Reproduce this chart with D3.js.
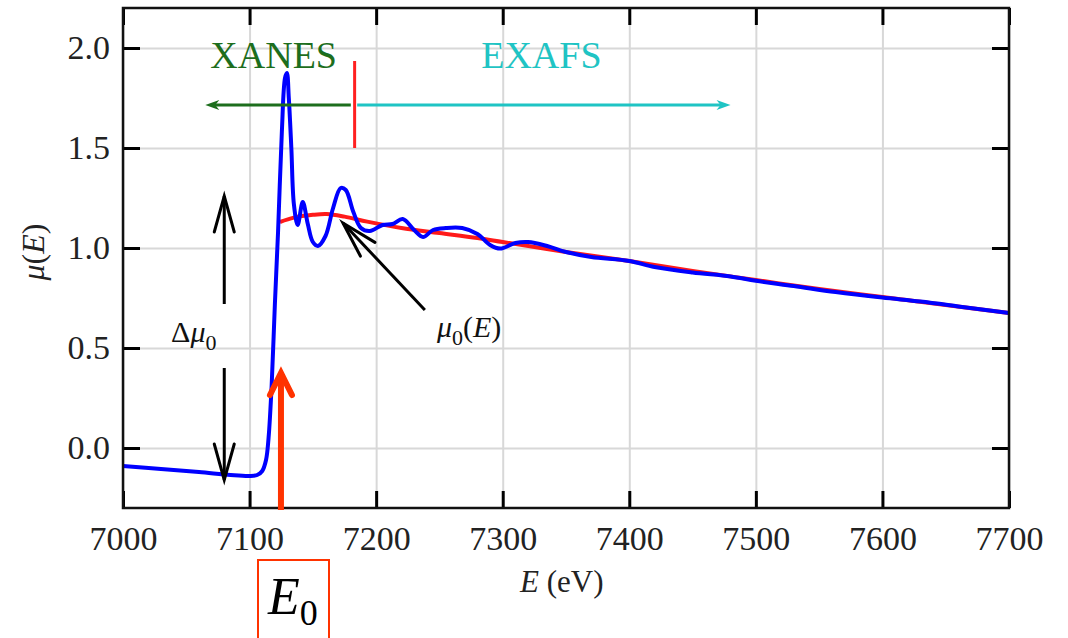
<!DOCTYPE html>
<html>
<head>
<meta charset="utf-8">
<script src="https://cdn.jsdelivr.net/npm/d3@7"></script>
<style>
  body { margin: 0; background: #fff; }
  svg { display: block; }
  text { font-family: "Liberation Serif", "Times New Roman", serif; }
</style>
</head>
<body>
<svg id="chart" width="1068" height="638"></svg>
<script>
// measured absorption mu(E), energy in eV
const energy = [7000, 7030, 7060, 7085, 7100, 7106, 7110, 7113, 7115, 7117.5, 7120, 7122.5, 7125.5,
    7128, 7129.5, 7131, 7133, 7135, 7138, 7142, 7146, 7150, 7154, 7160, 7166, 7172, 7176, 7182,
    7188, 7195, 7205, 7213, 7221, 7230, 7237, 7245, 7255, 7268, 7280, 7290, 7298, 7310, 7320,
    7335, 7350, 7370, 7400, 7420, 7450, 7480, 7500, 7530, 7563, 7600, 7630, 7660, 7700]
const mu = [-0.09, -0.105, -0.12, -0.135, -0.14, -0.135, -0.115, -0.06, 0.05, 0.32, 0.72, 1.08, 1.58,
    1.85, 1.875, 1.75, 1.5, 1.22, 1.115, 1.23, 1.12, 1.03, 1.01, 1.06, 1.2, 1.3, 1.29, 1.18,
    1.1, 1.085, 1.115, 1.12, 1.145, 1.09, 1.055, 1.09, 1.1, 1.1, 1.07, 1.015, 0.997, 1.025, 1.03,
    1.01, 0.98, 0.955, 0.935, 0.905, 0.878, 0.858, 0.836, 0.81, 0.78, 0.752, 0.732, 0.708, 0.675]

// smooth background mu0(E)
const energy0 = [7124, 7135, 7150, 7161, 7175, 7193, 7220, 7250, 7280, 7300, 7350, 7400, 7450,
    7500, 7550, 7600, 7650, 7700]
const mu0 = [1.13, 1.152, 1.166, 1.17, 1.157, 1.132, 1.1, 1.075, 1.05, 1.03, 0.98, 0.935, 0.885,
    0.84, 0.795, 0.755, 0.715, 0.675]

const xTicks = [7000, 7100, 7200, 7300, 7400, 7500, 7600, 7700]
const yTicks = [0.0, 0.5, 1.0, 1.5, 2.0]

const serif = "Liberation Serif"
const svg = d3.select("#chart")
const pl = 123, pr = 1009, pt = 8, pb = 508

const x = d3.scaleLinear().domain([7000, 7700]).range([pl, pr])
const y = d3.scaleLinear().domain([-0.3, 2.2]).range([pb, pt])

// grid
svg.append("g")
    .attr("transform", `translate(0,${pb})`)
    .call(d3.axisBottom(x).tickValues(xTicks).tickSize(-(pb - pt)).tickFormat(""))
    .call(g => g.select(".domain").remove())
    .selectAll("line").attr("stroke", "#d8d8d8").attr("stroke-width", 2)
svg.append("g")
    .attr("transform", `translate(${pl},0)`)
    .call(d3.axisLeft(y).tickValues(yTicks).tickSize(-(pr - pl)).tickFormat(""))
    .call(g => g.select(".domain").remove())
    .selectAll("line").attr("stroke", "#d8d8d8").attr("stroke-width", 2)

// curves
const line = d3.line().curve(d3.curveCatmullRom.alpha(0.5))

svg.append("path")
    .attr("d", line(energy0.map((e, i) => [x(e), y(mu0[i])])))
    .attr("fill", "none")
    .attr("stroke", "#ff1a1a")
    .attr("stroke-width", 4)

svg.append("path")
    .attr("d", line(energy.map((e, i) => [x(e), y(mu[i])])))
    .attr("fill", "none")
    .attr("stroke", "#0000ff")
    .attr("stroke-width", 4)
    .attr("stroke-linejoin", "round")

// axes, ticks pointing inward
const tickLen = 17
const styleAxis = g => {
    g.attr("font-family", serif).attr("font-size", 34)
    g.select(".domain").remove()
    g.selectAll("line").attr("stroke", "#000").attr("stroke-width", 3)
    g.selectAll("text").attr("fill", "#222")
}
svg.append("g")
    .attr("transform", `translate(0,${pb})`)
    .call(d3.axisBottom(x).tickValues(xTicks).tickSize(-tickLen).tickPadding(18).tickFormat(d3.format("d")))
    .call(styleAxis)
svg.append("g")
    .attr("transform", `translate(0,${pt})`)
    .call(d3.axisTop(x).tickValues(xTicks).tickSize(-tickLen).tickFormat(""))
    .call(styleAxis)
svg.append("g")
    .attr("transform", `translate(${pl},0)`)
    .call(d3.axisLeft(y).tickValues(yTicks).tickSize(-tickLen).tickPadding(13).tickFormat(d3.format(".1f")))
    .call(styleAxis)
svg.append("g")
    .attr("transform", `translate(${pr},0)`)
    .call(d3.axisRight(y).tickValues(yTicks).tickSize(-tickLen).tickFormat(""))
    .call(styleAxis)

svg.append("rect")
    .attr("x", pl).attr("y", pt)
    .attr("width", pr - pl).attr("height", pb - pt)
    .attr("fill", "none").attr("stroke", "#111").attr("stroke-width", 2.5)

// axis titles
svg.append("text")
    .attr("x", 520).attr("y", 592)
    .attr("font-size", 31).attr("fill", "#222")
    .html('<tspan font-style="italic">E</tspan> (eV)')

svg.append("text")
    .attr("transform", "translate(44,252) rotate(-90)")
    .attr("text-anchor", "middle")
    .attr("font-size", 32).attr("fill", "#222")
    .html('<tspan font-style="italic">μ</tspan>(<tspan font-style="italic">E</tspan>)')

// arrow helpers
function chevron(x1, y1, x2, y2, len, half, color, width) {
    const dx = x2 - x1, dy = y2 - y1, d = Math.hypot(dx, dy)
    const ux = dx / d, uy = dy / d
    const bx = x2 - ux * len, by = y2 - uy * len
    svg.append("line").attr("x1", x1).attr("y1", y1).attr("x2", x2).attr("y2", y2)
        .attr("stroke", color).attr("stroke-width", width)
    svg.append("polyline")
        .attr("points", [[bx - uy * half, by + ux * half], [x2, y2], [bx + uy * half, by - ux * half]].join(" "))
        .attr("fill", "none").attr("stroke", color).attr("stroke-width", width)
        .attr("stroke-linecap", "round").attr("stroke-linejoin", "miter")
}
function filledArrow(x1, y1, x2, y2, color) {
    const dir = Math.sign(x2 - x1)
    svg.append("line").attr("x1", x1).attr("y1", y1).attr("x2", x2 - dir * 8).attr("y2", y2)
        .attr("stroke", color).attr("stroke-width", 3)
    svg.append("path")
        .attr("d", `M${x2},${y2}L${x2 - dir * 14},${y2 - 5}L${x2 - dir * 10},${y2}L${x2 - dir * 14},${y2 + 5}Z`)
        .attr("fill", color)
}

// XANES / EXAFS
const green = "#1d6e1d", cyan = "#1fc4c4"
filledArrow(x(7180), y(1.715), x(7065), y(1.715), green)
filledArrow(x(7185), y(1.715), x(7480), y(1.715), cyan)
svg.append("line")
    .attr("x1", x(7183)).attr("x2", x(7183))
    .attr("y1", y(1.935)).attr("y2", y(1.5))
    .attr("stroke", "#ff2020").attr("stroke-width", 3)
svg.append("text").attr("x", x(7069)).attr("y", y(1.9))
    .attr("font-size", 38).attr("fill", green).text("XANES")
svg.append("text").attr("x", x(7283)).attr("y", y(1.9))
    .attr("font-size", 38).attr("fill", cyan).text("EXAFS")

// edge step
chevron(x(7080), y(0.72), x(7080), y(1.26), 36, 10, "#000", 3)
chevron(x(7080), y(0.40), x(7080), y(-0.16), 36, 10, "#000", 3)
svg.append("text").attr("x", x(7038)).attr("y", y(0.53))
    .attr("font-size", 30).attr("fill", "#111")
    .html('Δ<tspan font-style="italic">μ</tspan><tspan font-size="22" dy="8">0</tspan>')

// mu0 label
chevron(x(7238.5), y(0.69), x(7173.8), y(1.125), 36, 10, "#000", 3)
svg.append("text").attr("x", x(7248)).attr("y", y(0.555))
    .attr("font-size", 30).attr("fill", "#111")
    .html('<tspan font-style="italic">μ</tspan><tspan font-size="22" dy="8">0</tspan><tspan dy="-8">(</tspan><tspan font-style="italic">E</tspan>)')

// E0 marker
const orange = "#ff3300"
chevron(x(7124.8), pb + 2, x(7124.8), y(0.375), 22, 11, orange, 6)
svg.append("rect")
    .attr("x", 258).attr("y", 560).attr("width", 71).attr("height", 84)
    .attr("fill", "none").attr("stroke", orange).attr("stroke-width", 2)
svg.append("text").attr("x", 268).attr("y", 614)
    .attr("font-size", 52).attr("fill", "#000")
    .html('<tspan font-style="italic">E</tspan><tspan font-size="36" dy="11">0</tspan>')
</script>
</body>
</html>
